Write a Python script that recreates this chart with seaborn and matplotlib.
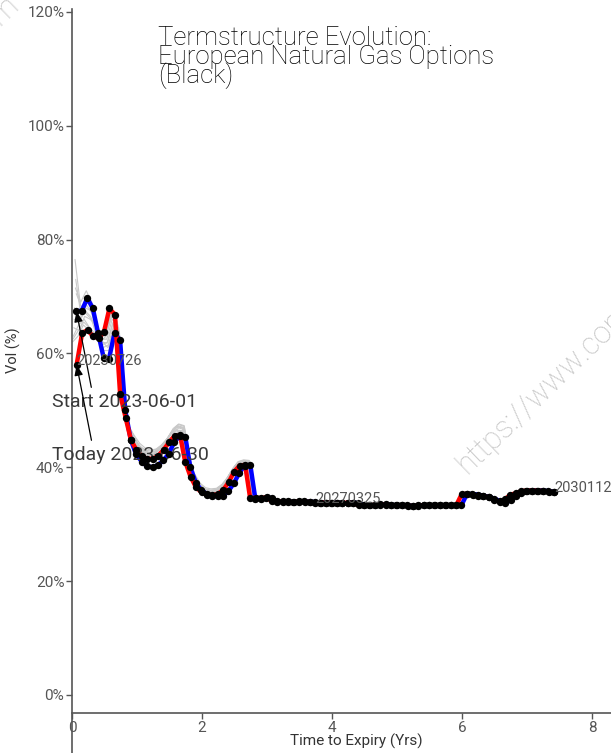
import numpy as np
import pandas as pd
import matplotlib.pyplot as plt
import seaborn as sns
from matplotlib.ticker import FuncFormatter

sns.set_theme(style="ticks")
plt.rcParams['font.family'] = ['Roboto', 'DejaVu Sans']

start_date = "2023-06-01"
today_date = "2023-06-30"
start_first_expiry = "2023-06-26"
today_first_expiry = "2023-07-26"

# implied vol (%) per monthly expiry
start_vols = [67.4, 67.5, 69.7, 67.9, 63.5, 59.2, 59.1, 63.6, 62.3, 50.0,
              44.8, 42.3, 41.0, 40.2, 40.0, 40.4, 41.2, 42.4, 44.4, 45.5,
              45.4, 40.0, 37.3, 36.0, 35.3, 35.0, 34.9, 35.0, 35.8, 37.2,
              39.0, 40.3, 40.4, 34.5, 34.5, 34.6, 34.6, 34.0, 33.9, 34.0,
              33.9, 33.9, 34.0, 33.9, 33.9, 33.8, 33.8, 33.8, 33.8, 33.7,
              33.7, 33.8, 33.7, 33.3, 33.3, 33.3, 33.4, 33.5, 33.4, 33.3,
              33.3, 33.3, 33.2, 33.2, 33.3, 33.3, 33.3, 33.3, 33.3, 33.3,
              33.3, 33.3, 35.3, 35.3, 35.2, 35.0, 34.8, 34.5, 34.1, 33.7,
              34.2, 35.0, 35.4, 35.8, 35.9, 35.9, 35.9, 35.8, 35.7]

today_vols = [58.0, 63.6, 64.1, 63.0, 62.7, 63.7, 67.9, 66.8, 52.9, 48.7,
              44.8, 43.0, 41.9, 41.5, 41.5, 42.0, 43.1, 44.4, 45.5, 45.6,
              41.0, 38.3, 36.5, 35.6, 35.2, 35.1, 35.3, 36.0, 37.4, 39.2,
              40.3, 40.4, 34.6, 34.6, 34.6, 34.7, 34.0, 33.9, 34.0, 33.9,
              33.9, 34.0, 33.9, 33.9, 33.8, 33.8, 33.8, 33.8, 33.7, 33.7,
              33.8, 33.7, 33.3, 33.3, 33.3, 33.4, 33.5, 33.4, 33.3, 33.3,
              33.3, 33.2, 33.2, 33.3, 33.3, 33.3, 33.3, 33.3, 33.3, 33.3,
              33.3, 35.3, 35.3, 35.2, 35.0, 34.9, 34.7, 34.3, 33.9, 34.4,
              35.2, 35.4, 35.8, 35.9, 35.9, 35.9, 35.8, 35.7, 35.6]

# days in between (grey history), front part of the curve
hist_dates = ["2023-06-02", "2023-06-05", "2023-06-07", "2023-06-09", "2023-06-12",
              "2023-06-14", "2023-06-16", "2023-06-19", "2023-06-21", "2023-06-23"]
hist_vols = [
    [70.5, 68.0, 70.0, 68.5, 64.0, 60.5, 60.5, 64.5, 63.0, 51.0, 45.5, 43.5, 42.2, 41.5, 41.3, 41.8, 42.6,
     43.8, 45.5, 46.5, 46.3, 41.0, 38.0, 36.5, 35.8, 35.6, 35.7, 36.4, 37.6, 39.2, 40.6, 40.9, 40.9, 34.8],
    [73.0, 66.5, 68.5, 67.0, 63.5, 61.0, 61.5, 65.0, 63.8, 51.5, 46.0, 44.0, 42.8, 42.2, 42.0, 42.4, 43.2,
     44.5, 46.0, 47.0, 46.8, 41.5, 38.4, 36.8, 36.0, 35.8, 35.9, 36.6, 37.8, 39.5, 40.8, 41.0, 41.0, 34.9],
    [71.5, 69.0, 71.0, 69.0, 65.0, 62.0, 61.0, 64.0, 63.5, 51.8, 46.8, 44.8, 43.6, 43.0, 42.8, 43.2, 44.0,
     45.2, 46.8, 47.6, 47.3, 41.9, 38.8, 37.2, 36.4, 36.2, 36.3, 37.0, 38.2, 39.8, 41.0, 41.3, 41.2, 35.0],
    [76.5, 68.5, 67.0, 66.0, 63.0, 61.5, 62.0, 65.5, 64.5, 52.0, 46.5, 44.5, 43.0, 42.5, 42.3, 42.6, 43.5,
     45.0, 46.5, 47.5, 47.2, 41.8, 38.6, 37.0, 36.2, 36.0, 36.1, 36.8, 38.0, 39.6, 40.9, 41.2, 41.1, 34.9],
    [68.0, 66.0, 68.0, 67.5, 64.5, 62.0, 61.8, 65.2, 64.2, 52.2, 47.2, 45.6, 44.2, 43.4, 43.0, 43.2, 43.9,
     45.0, 46.4, 47.3, 47.0, 41.6, 38.5, 36.9, 36.1, 35.9, 36.0, 36.7, 37.8, 39.4, 40.7, 41.0, 40.9, 34.8],
    [66.0, 65.5, 67.5, 66.5, 64.5, 62.5, 62.5, 66.0, 65.0, 52.5, 47.0, 45.5, 43.5, 42.8, 42.5, 42.8, 43.6,
     44.8, 46.2, 47.2, 46.9, 41.4, 38.3, 36.7, 36.0, 35.7, 35.8, 36.5, 37.6, 39.3, 40.6, 40.8, 40.8, 34.8],
    [64.5, 64.0, 66.5, 66.0, 65.0, 63.0, 63.5, 66.5, 65.5, 52.8, 46.5, 45.0, 43.2, 42.5, 42.2, 42.5, 43.3,
     44.5, 46.0, 47.0, 46.7, 41.2, 38.1, 36.5, 35.8, 35.5, 35.6, 36.3, 37.5, 39.2, 40.5, 40.7, 40.6, 34.7],
    [63.0, 65.0, 66.0, 64.5, 63.5, 62.0, 63.0, 66.5, 65.8, 52.5, 47.5, 45.8, 44.0, 43.0, 42.6, 42.8, 43.5,
     44.6, 45.8, 46.6, 46.3, 41.0, 38.0, 36.4, 35.7, 35.4, 35.5, 36.2, 37.4, 39.0, 40.4, 40.6, 40.6, 34.7],
    [62.5, 64.0, 65.5, 64.5, 63.0, 62.5, 63.5, 66.8, 66.0, 52.8, 47.2, 45.2, 43.6, 42.8, 42.3, 42.5, 43.3,
     44.5, 45.9, 46.5, 46.2, 40.9, 37.9, 36.3, 35.6, 35.4, 35.5, 36.2, 37.4, 39.0, 40.4, 40.6, 40.5, 34.6],
    [62.0, 63.0, 65.0, 64.0, 63.0, 62.5, 64.0, 67.0, 66.0, 52.5, 47.0, 45.0, 43.2, 42.4, 42.0, 42.3, 43.2,
     44.4, 45.8, 46.4, 46.0, 40.8, 37.8, 36.2, 35.5, 35.3, 35.4, 36.1, 37.3, 38.9, 40.3, 40.5, 40.5, 34.6],
]

expiry_labels = ["20230726", "20270325", "20301125"]
label_idx = [0, 44, 88]

watermark = "https://www.commodity-vol.com"


def tenors(asof, first_expiry, n):
    exp = pd.date_range(first_expiry, periods=n, freq=pd.DateOffset(months=1))
    return np.asarray((exp - pd.Timestamp(asof)).days) / 365.0


start_x = tenors(start_date, start_first_expiry, len(start_vols))
today_x = tenors(today_date, today_first_expiry, len(today_vols))

curves = pd.concat([
    pd.DataFrame({'tenor': start_x, 'vol': start_vols, 'curve': 'start'}),
    pd.DataFrame({'tenor': today_x, 'vol': today_vols, 'curve': 'today'}),
], ignore_index=True)

hist = pd.concat([
    pd.DataFrame({'tenor': tenors(d, start_first_expiry, len(v)), 'vol': v, 'asof': d})
    for d, v in zip(hist_dates, hist_vols)
], ignore_index=True)

fig = plt.figure(figsize=(6.11, 7.53), dpi=100)
ax = fig.add_axes([72 / 611, 0, 1 - 72 / 611, 744 / 753])

sns.lineplot(data=hist, x='tenor', y='vol', units='asof', estimator=None, sort=False,
             color='#c8c8c8', lw=0.8, ax=ax, zorder=1)
sns.lineplot(data=curves, x='tenor', y='vol', hue='curve', estimator=None, sort=False,
             palette={'start': '#0000ff', 'today': '#ff0000'}, lw=3.2, legend=False, ax=ax, zorder=2)
sns.scatterplot(data=curves, x='tenor', y='vol', color='black', s=28, linewidth=0,
                legend=False, ax=ax, zorder=4)

for k, lab in zip(label_idx, expiry_labels):
    ax.text(today_x[k], today_vols[k], lab, fontsize=10.5, color='#555555',
            ha='left', va='baseline', zorder=6)

ax.annotate("Start 2023-06-01", xy=(start_x[0], start_vols[0]), xytext=(-0.31, 51.4),
            fontsize=14, color='#3a3a3a', ha='left', va='center',
            arrowprops=dict(arrowstyle='-|>,head_length=0.45,head_width=0.18', color='black',
                            lw=0.9, relpos=(0.28, 1.0), shrinkA=2, shrinkB=0))
ax.annotate("Today 2023-06-30", xy=(today_x[0], today_vols[0]), xytext=(-0.31, 42.1),
            fontsize=14, color='#3a3a3a', ha='left', va='center',
            arrowprops=dict(arrowstyle='-|>,head_length=0.45,head_width=0.18', color='black',
                            lw=0.9, relpos=(0.26, 1.0), shrinkA=2, shrinkB=0))

ax.set_xlim(0, 8.29)
ax.set_ylim(-10.2, 120.5)
ax.set_xticks([0, 2, 4, 6, 8])
ax.set_yticks([0, 20, 40, 60, 80, 100, 120])
ax.yaxis.set_major_formatter(FuncFormatter(lambda v, p: f"{v:.0f}%"))

sns.despine(ax=ax)
ax.spines['bottom'].set_position(('data', -3.16))
for s in ['left', 'bottom']:
    ax.spines[s].set_color('#555555')
    ax.spines[s].set_linewidth(1.2)
ax.tick_params(direction='out', length=4, width=1, color='#555555',
               labelcolor='#555555', labelsize=11)
ax.tick_params(axis='y', pad=1.5)
ax.tick_params(axis='x', pad=1.5)

ax.set_xlabel('Time to Expiry (Yrs)', fontsize=11, color='#333333')
ax.set_ylabel('Vol (%)', fontsize=10.5, color='#333333')
ax.xaxis.set_label_coords(0.527, 0.0255)
ax.yaxis.set_label_coords(-0.095, 0.542)

fig.text(158 / 611, 1 - 26 / 753,
         "Termstructure Evolution:\nEuropean Natural Gas Options\n(Black)",
         fontsize=18.5, fontweight='light', color='#000000', ha='left', va='top',
         linespacing=0.72)

# watermark (main one plus the tail of the previous copy in the corner)
fig.text(467 / 611, 1 - 475 / 753, watermark, fontsize=22,
         fontweight='light', color='#c4c4c4', rotation=44, rotation_mode='anchor',
         ha='left', va='baseline', zorder=0)
fig.text(20 / 611, 1 - 6 / 753, watermark, fontsize=22,
         fontweight='light', color='#c4c4c4', rotation=44, rotation_mode='anchor',
         ha='right', va='baseline', zorder=0)

fig.savefig('out.png', dpi=100)
